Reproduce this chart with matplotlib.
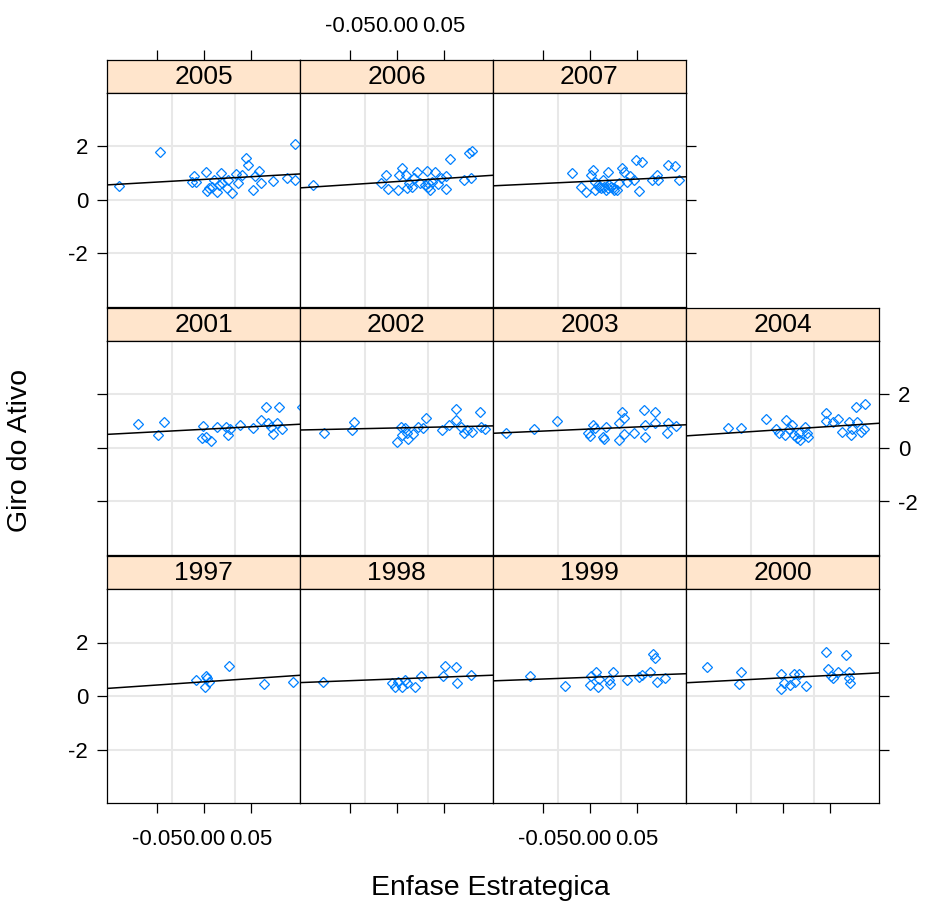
import matplotlib
matplotlib.use("Agg")
import matplotlib.pyplot as plt

plt.rcParams['font.family'] = ['Liberation Sans', 'DejaVu Sans']
plt.rcParams['axes.unicode_minus'] = False

# ---- data: Enfase Estrategica (x) vs Giro do Ativo (y), by year ----
years = [1997, 1998, 1999, 2000, 2001, 2002, 2003, 2004, 2005, 2006, 2007]

x_1997 = [-0.008, 0.001, 0.0024, 0.0035, 0.0052, 0.0271, 0.0635, 0.0948]
y_1997 = [0.60, 0.33, 0.73, 0.67, 0.54, 1.13, 0.45, 0.54]

x_1998 = [-0.0783, -0.0054, -0.0019, 0.0016, 0.005, 0.0085, 0.0102, 0.019,
          0.0259, 0.0491, 0.0512, 0.0623, 0.064, 0.0789]
y_1998 = [0.54, 0.48, 0.33, 0.54, 0.35, 0.60, 0.48, 0.33,
          0.73, 0.73, 1.11, 1.08, 0.48, 0.79]

x_1999 = [-0.0639, -0.0264, -0.0003, 0.0014, 0.0066, 0.0083, 0.0101, 0.0205,
          0.0215, 0.024, 0.0389, 0.0517, 0.0552, 0.0639, 0.0674, 0.0691,
          0.0708, 0.0795]
y_1999 = [0.75, 0.38, 0.42, 0.73, 0.88, 0.35, 0.63, 0.60,
          0.45, 0.88, 0.60, 0.71, 0.79, 0.88, 1.58, 1.42,
          0.54, 0.67]

x_2000 = [-0.0807, -0.0471, -0.0443, -0.0026, -0.0019, 0.0008, 0.0078, 0.0113,
          0.013, 0.0165, 0.0245, 0.046, 0.0477, 0.0512, 0.053, 0.0581,
          0.0668, 0.0703, 0.071, 0.0703]
y_2000 = [1.08, 0.45, 0.88, 0.25, 0.82, 0.48, 0.42, 0.82,
          0.54, 0.82, 0.38, 1.65, 1.01, 0.73, 0.67, 0.88,
          1.52, 0.88, 0.50, 0.67]

x_2001 = [-0.0705, -0.0486, -0.0427, -0.001, -0.0017, 0.0017, 0.007, 0.0139,
          0.0233, 0.026, 0.0278, 0.0382, 0.052, 0.0608, 0.066, 0.0677,
          0.0712, 0.073, 0.078, 0.0799, 0.0833, 0.104]
y_2001 = [0.90, 0.49, 0.96, 0.84, 0.36, 0.42, 0.26, 0.78,
          0.80, 0.49, 0.70, 0.86, 0.76, 1.05, 1.52, 0.92,
          0.80, 0.51, 0.95, 1.52, 0.70, 1.52]

x_2002 = [-0.0773, -0.0481, -0.0453, 0.0005, 0.004, 0.005, 0.0085, 0.0102,
          0.012, 0.0172, 0.0224, 0.0276, 0.031, 0.0477, 0.0554, 0.0623,
          0.0623, 0.0675, 0.071, 0.0745, 0.0797, 0.0884, 0.0894, 0.0935]
y_2002 = [0.55, 0.67, 0.99, 0.24, 0.80, 0.49, 0.74, 0.55,
          0.33, 0.52, 0.80, 0.74, 1.11, 0.67, 0.86, 1.45,
          1.05, 0.80, 0.55, 0.67, 0.61, 1.36, 0.80, 0.70]

x_2003 = [-0.0889, -0.0594, -0.0351, -0.0021, -0.0003, 0.0031, 0.0049, 0.0135,
          0.0146, 0.017, 0.0309, 0.0309, 0.0344, 0.0361, 0.0361, 0.0465,
          0.057, 0.0587, 0.0587, 0.069, 0.069, 0.0813, 0.083, 0.0909]
y_2003 = [0.57, 0.70, 1.02, 0.55, 0.45, 0.86, 0.74, 0.42,
          0.33, 0.80, 0.30, 0.95, 1.36, 1.11, 0.52, 0.55,
          1.42, 0.86, 0.42, 1.36, 0.95, 0.55, 0.95, 0.82]

x_2004 = [-0.0581, -0.0443, -0.0182, -0.0078, -0.0043, 0.0026, 0.0036, 0.006,
          0.0096, 0.0113, 0.0148, 0.0165, 0.0182, 0.0234, 0.0252, 0.0269,
          0.046, 0.046, 0.0536, 0.0581, 0.0627, 0.0703, 0.0721, 0.0738,
          0.079, 0.0825, 0.086, 0.0773, 0.0866]
y_2004 = [0.76, 0.76, 1.09, 0.70, 0.55, 0.49, 1.05, 0.70,
          0.86, 0.49, 0.36, 0.55, 0.30, 0.80, 0.55, 0.42,
          1.30, 1.02, 0.99, 1.07, 0.61, 0.99, 0.49, 0.70,
          0.99, 0.61, 0.70, 1.55, 1.65]

x_2005 = [-0.090, -0.047, -0.0104, -0.0122, -0.0087, 0.0024, 0.0052, 0.0035,
          0.0087, 0.0104, 0.0139, 0.0156, 0.0184, 0.0191, 0.0243, 0.026,
          0.0295, 0.0337, 0.0365, 0.040, 0.0451, 0.0469, 0.052, 0.0538,
          0.0583, 0.0608, 0.073, 0.0885, 0.097, 0.097]
y_2005 = [0.54, 1.80, 0.88, 0.67, 0.69, 1.03, 0.44, 0.34,
          0.50, 0.75, 0.31, 0.57, 1.01, 0.65, 0.44, 0.75,
          0.28, 0.97, 0.63, 0.94, 1.57, 1.30, 0.38, 0.88,
          1.09, 0.63, 0.72, 0.84, 0.75, 2.08]

x_2006 = [-0.0888, -0.0169, -0.0117, -0.0099, 0.0016, 0.0023, 0.0057, 0.0092,
          0.011, 0.0127, 0.0161, 0.0179, 0.0214, 0.0248, 0.030, 0.0318,
          0.0328, 0.033, 0.0352, 0.037, 0.0404, 0.044, 0.0467, 0.0516,
          0.0526, 0.0568, 0.0717, 0.0769, 0.0793, 0.0786]
y_2006 = [0.57, 0.63, 0.92, 0.40, 0.38, 0.94, 1.19, 0.94,
          0.44, 0.63, 0.50, 0.82, 1.03, 0.63, 0.57, 1.07,
          0.63, 0.50, 0.38, 0.69, 1.03, 0.60, 0.82, 0.91,
          0.40, 1.54, 0.75, 1.74, 1.82, 0.82]

x_2007 = [-0.019, -0.0097, -0.0038, 0.0014, 0.0031, 0.0049, 0.0049, 0.0083,
          0.010, 0.0118, 0.0135, 0.0153, 0.017, 0.0188, 0.0195, 0.0205,
          0.0222, 0.024, 0.0257, 0.0292, 0.0309, 0.0344, 0.0361, 0.0396,
          0.043, 0.0465, 0.0493, 0.0517, 0.0552, 0.0656, 0.0708, 0.0726,
          0.083, 0.090, 0.0945]
y_2007 = [1.01, 0.50, 0.31, 0.94, 1.13, 0.69, 0.38, 0.57,
          0.50, 0.44, 0.75, 0.50, 0.38, 0.44, 1.03, 0.57,
          0.50, 0.44, 0.38, 0.38, 0.63, 1.19, 1.03, 0.69,
          0.88, 0.75, 1.48, 0.35, 1.41, 0.75, 0.94, 0.75,
          1.32, 1.26, 0.73]

# fitted line per year: intercept and slope
line_intercept = [0.53, 0.64, 0.70, 0.68, 0.70, 0.75, 0.71, 0.69, 0.77, 0.69, 0.70]
line_slope = [2.4, 1.35, 1.3, 1.8, 1.85, 0.75, 1.55, 2.3, 2.0, 2.3, 1.65]

x_ticks = [-0.05, 0.0, 0.05]
x_tick_labels = ['-0.05', '0.00', '0.05']
y_ticks = [-2, 0, 2]
y_tick_labels = ['-2', '0', '2']
x_grid = [-0.034, 0.033]
xlim = (-0.103, 0.102)
ylim = (-4.0, 4.0)

series = {
    1997: (x_1997, y_1997), 1998: (x_1998, y_1998), 1999: (x_1999, y_1999),
    2000: (x_2000, y_2000), 2001: (x_2001, y_2001), 2002: (x_2002, y_2002),
    2003: (x_2003, y_2003), 2004: (x_2004, y_2004), 2005: (x_2005, y_2005),
    2006: (x_2006, y_2006), 2007: (x_2007, y_2007),
}

# ---- figure layout (pixel geometry) ----
W, H, DPI = 928, 905, 100
fig = plt.figure(figsize=(W / DPI, H / DPI), dpi=DPI)
fig.patch.set_facecolor('white')

COL_LEFT, COL_W = 107, 193
ROW_TOP, ROW_STEP = 60, 248
STRIP_H, PANEL_H = 33, 214

STRIP_BG = '#FFE5CC'
POINT_COLOR = '#0080FF'
GRID_COLOR = '#E8E8E8'

TICK_FS = 16
STRIP_FS = 19
LABEL_FS = 20.5


def rect(left, top, width, height):
    return [left / W, 1 - (top + height) / H, width / W, height / H]


ncols = 4
for i, yr in enumerate(years):
    row = 2 - i // ncols
    col = i % ncols
    last_in_row = (col == ncols - 1) or (yr == years[-1])
    left = COL_LEFT + col * COL_W
    top = ROW_TOP + row * ROW_STEP

    # strip with the year
    sax = fig.add_axes(rect(left, top, COL_W, STRIP_H))
    sax.set_facecolor(STRIP_BG)
    sax.set_xticks([])
    sax.set_yticks([])
    for sp in sax.spines.values():
        sp.set_linewidth(0.9)
        sp.set_color('black')
    sax.text(0.5, 0.47, str(yr), ha='center', va='center', fontsize=STRIP_FS,
             transform=sax.transAxes)

    # panel
    ax = fig.add_axes(rect(left, top + STRIP_H, COL_W, PANEL_H))
    ax.set_xlim(*xlim)
    ax.set_ylim(*ylim)
    for gx in x_grid:
        ax.axvline(gx, color=GRID_COLOR, lw=1.5, zorder=0)
    for gy in y_ticks:
        ax.axhline(gy, color=GRID_COLOR, lw=1.5, zorder=0)

    xs, ys = series[yr]
    ax.plot(xs, ys, linestyle='none', marker='D', markersize=5.5,
            markerfacecolor='none', markeredgecolor=POINT_COLOR,
            markeredgewidth=0.9, zorder=3)
    ax.axline((0.0, line_intercept[i]), slope=line_slope[i], color='black',
              lw=1.1, zorder=4)

    for sp in ax.spines.values():
        sp.set_linewidth(0.9)
        sp.set_color('black')

    ax.set_xticks(x_ticks)
    ax.set_xticklabels(x_tick_labels)
    ax.set_yticks(y_ticks)
    ax.set_yticklabels(y_tick_labels)
    ax.tick_params(direction='out', length=7.5, width=0.9, labelsize=TICK_FS,
                   pad=6, colors='black')
    ax.tick_params(axis='x', pad=11)

    is_top = (row == 0)
    is_bottom = (row == 2)
    ax.tick_params(axis='x',
                   bottom=is_bottom, labelbottom=is_bottom and col % 2 == 0,
                   top=False, labeltop=False)
    ax.tick_params(axis='y',
                   left=(col == 0), labelleft=(col == 0 and row != 1),
                   right=last_in_row, labelright=(last_in_row and row == 1))
    if is_top:
        # top axis is drawn on the strip's upper edge
        sax.set_xlim(*xlim)
        sax.set_xticks(x_ticks)
        sax.set_xticklabels(x_tick_labels)
        sax.tick_params(axis='x', direction='out', length=7.5, width=0.9,
                        labelsize=TICK_FS, pad=9, bottom=False,
                        labelbottom=False, top=True, labeltop=(col == 1))

fig.text(20 / W, 1 - 450 / H, 'Giro do Ativo', rotation=90, ha='center',
         va='center', fontsize=LABEL_FS)
fig.text(490 / W, 1 - 888 / H, 'Enfase Estrategica', ha='center',
         va='center', fontsize=LABEL_FS)

fig.savefig('out.png', dpi=DPI, facecolor='white')
